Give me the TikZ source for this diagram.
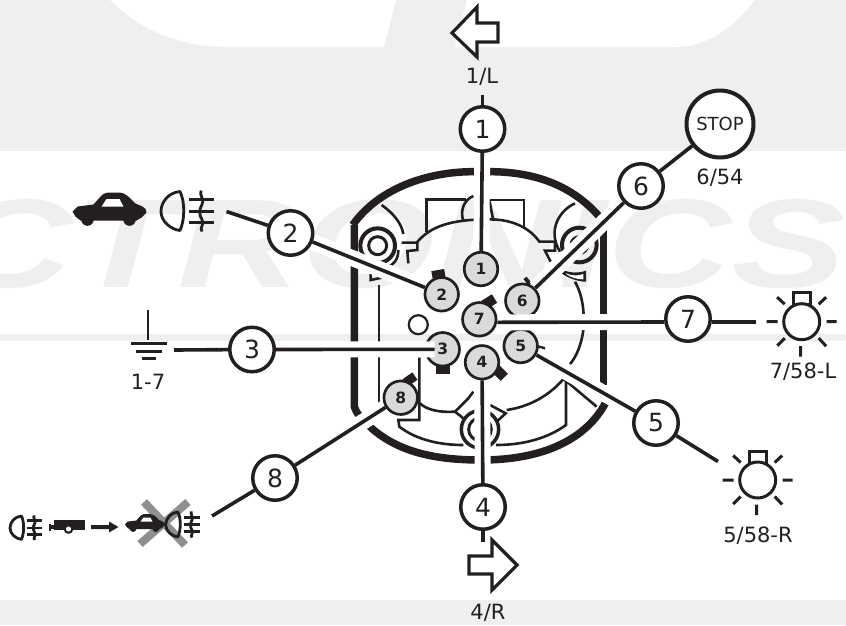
\documentclass[tikz,border=0pt]{standalone}
\usepackage{fontspec}
\setmainfont{DejaVu Sans}
\newfontfamily\wmfont{Liberation Sans}
\definecolor{ink}{HTML}{231F20}
\definecolor{wm}{HTML}{EFEFEF}
\definecolor{pinfill}{HTML}{D9DADC}
\definecolor{xgray}{HTML}{8F8F8F}
\pgfdeclarelayer{low}\pgfdeclarelayer{halolayer}
\pgfsetlayers{low,halolayer,main}
\tikzset{
  callout/.style={circle,draw=ink,fill=white,line width=3.5pt,minimum size=44.5pt,inner sep=0pt,text=ink,font=\fontsize{25}{25}\selectfont},
  pinnode/.style={circle,draw=ink,fill=pinfill,line width=2.7pt,minimum size=33.5pt,inner sep=0pt,text=ink,font=\fontsize{15.5}{15.5}\selectfont\bfseries},
  lab/.style={text=ink,inner sep=0pt,font=\fontsize{21}{21}\selectfont},
  wire/.style={draw=ink,line width=3.6pt},
  halo/.style={draw=white,line width=16pt},
  thickhouse/.style={draw=ink,line width=7.5pt},
  thinhouse/.style={draw=ink,line width=2.6pt},
  icon/.style={draw=ink,line width=2.8pt},
  tabmark/.style={fill=ink,draw=none},
}
\newcommand{\lampicon}[3]{%
  \begin{scope}[shift={(#1,#2)},scale=#3]
    \draw[icon,line join=round] (19,0) .. controls (24,10) and (24,28) .. (19,39) .. controls (10,38) and (0,30) .. (0,20) .. controls (0,10) and (8,1) .. (19,0) -- cycle;
    \draw[icon] (28,8) -- (53,8) (28,20) -- (53,20) (28,31) -- (53,31);
    \draw[icon] (40,-1) .. controls (38,4) and (44,8) .. (41,13) .. controls (38,18) and (38,24) .. (41,28) .. controls (44,33) and (38,36) .. (41,40);
  \end{scope}}
\newcommand{\caricon}[3]{%
  \begin{scope}[shift={(#1,#2)},scale=#3]
    \fill[ink] (0,19) -- (5,14) -- (21,12) -- (29,3) .. controls (32,0) and (36,0) .. (38,0) -- (47,0) .. controls (52,0) and (56,4) .. (63,11) -- (70,14) .. controls (73,15) and (74,18) .. (74,20) -- (69,25) -- (64,28) -- (8,28) -- (3,24) -- cycle;
    \fill[ink] (15,27) circle (6.3) (57,27) circle (6.3);
    \fill[white] (29,14) -- (34,6.5) -- (47,6.5) -- (51,14) -- cycle;
  \end{scope}}
\newcommand{\bulbicon}[2]{%
  \begin{scope}[shift={(#1,#2)}]
    \draw[icon,line width=3pt] (-8.5,-17) rectangle (9,-29);
    \draw[icon,line width=3pt,fill=white] (0,0) circle (18);
    \draw[icon,line width=3pt] (-35,0) -- (-24,0) (25,0) -- (35,0) (-1,24.5) -- (-1,35)
      (-24.5,-24.5) -- (-17,-17.5) (24.5,-24.5) -- (17,-17.5) (-24.5,24) -- (-17,16.5) (24.5,24.5) -- (17,16.5);
  \end{scope}}
\begin{document}
\begin{tikzpicture}[x=1pt,y=-1pt]
\useasboundingbox (0,0) rectangle (846,625);
\begin{pgfonlayer}{low}
  % background watermark
  \begin{scope}
    \clip (0,0) rectangle (846,625);
    \fill[wm] (0,0) rectangle (846,151);
    \fill[white] (110,0) .. controls (140,30) and (180,47) .. (227,47) -- (384,47) -- (396,0) -- cycle;
    \fill[white] (467,0) -- (455,47) -- (675,47) .. controls (710,47) and (735,25) .. (755,0) -- cycle;
    \fill[wm] (0,334) rectangle (846,341);
    \fill[wm] (0,600) rectangle (846,625);
    \node[anchor=north west,inner sep=0pt,text=wm] at (-52,199) {\resizebox{898pt}{88pt}{\wmfont\bfseries\itshape CTRONICS}};
  \end{scope}
  % connector housing, in a frame of 3x units from (330,150)
  \begin{scope}[shift={(330,150)},scale=1/3]
    \draw[thickhouse] (68,225) .. controls (150,110) and (300,65) .. (430,65) -- (478,65) .. controls (620,65) and (730,110) .. (808,200);
    \draw[thickhouse] (73,225) -- (73,770) .. controls (78,790) and (95,805) .. (125,835) .. controls (200,900) and (300,930) .. (453,930)
      .. controls (620,930) and (760,880) .. (826,760);
    \draw[thickhouse] (820,240) -- (820,705);
    \draw[thinhouse] (290,245) -- (290,148) -- (408,148);
    \draw[thinhouse] (430,138) .. controls (400,150) and (390,185) .. (400,212);
    \draw[thinhouse] (478,150) -- (582,150) -- (582,232);
    \draw[thinhouse] (478,150) -- (490,212);
    \draw[thinhouse] (260,278) .. controls (300,230) and (360,208) .. (478,208) .. controls (550,208) and (600,235) .. (628,275);
    \draw[thinhouse] (215,278) -- (262,278) -- (262,300) -- (232,303) -- (235,340);
    \draw[thinhouse] (625,275) -- (675,275) -- (675,302) -- (645,302) -- (662,335);
    \draw[thinhouse] (155,165) .. controls (190,190) and (215,220) .. (220,252);
    \draw[thinhouse,line width=3pt] (143,287) circle (27);
    \draw[thinhouse,line width=4pt] (143,287) circle (52);
    \draw[thinhouse] (205,300) .. controls (205,330) and (190,345) .. (170,352);
    \draw[thinhouse] (735,160) .. controls (690,180) and (650,240) .. (690,305);
    \draw[thinhouse,line width=4pt] (748,285) circle (52);
    \draw[thinhouse,line width=3pt] (748,285) circle (25);
    \fill[ink] (695,358) .. controls (720,370) and (745,370) .. (768,362) -- (768,395) .. controls (745,395) and (715,385) .. (695,370) -- cycle;
    \fill[white] (708,370) .. controls (725,378) and (745,378) .. (760,372) -- (760,388) .. controls (740,388) and (725,383) .. (708,372) -- cycle;
    \draw[thinhouse] (735,395) .. controls (755,430) and (765,480) .. (760,540) .. controls (755,580) and (740,620) .. (720,642);
    \draw[thinhouse] (122,372) -- (122,390) -- (160,382);
    \draw[thinhouse] (147,405) -- (147,765);
    \draw[draw=gray!70,line width=1pt] (147,577) -- (270,577);
    \draw[thinhouse] (268,622) -- (268,810) -- (205,810) -- (208,830) .. controls (260,870) and (330,885) .. (400,885);
    \draw[thinhouse] (270,760) .. controls (290,780) and (330,788) .. (375,785) -- (415,745) -- (430,725);
    \draw[thinhouse] (375,785) -- (400,805);
    \draw[thinhouse,line width=3.5pt] (450,838) circle (56);
    \draw[thinhouse,line width=3pt] (450,838) circle (34);
    \draw[thinhouse] (480,765) -- (527,790) -- (500,815);
    \draw[thinhouse] (530,780) .. controls (600,770) and (660,735) .. (702,685) -- (708,695) -- (708,825) .. controls (660,860) and (590,885) .. (498,885);
    \draw[thinhouse] (705,690) -- (800,770);
    \draw[thinhouse] (625,590) -- (645,595);
  \end{scope}
  % pins cut by the white margin of a wire
  \fill[tabmark,rotate around={38:(527.5,281)}] (525.5,277) rectangle (529.5,285);
  \fill[tabmark] (436,365) rectangle (450,374);
  \node[pinnode] (p6) at (522.3,300.7) {6};
  \node[pinnode] (p5) at (520.7,346) {5};
  \node[pinnode] (p3) at (442.7,349.3) {3};
\end{pgfonlayer}

% tabs of the pins
\fill[tabmark,rotate around={10:(438.5,274.5)}] (432,270) rectangle (445,279);
\fill[tabmark,rotate around={32:(489,302)}] (482.5,297) rectangle (495.5,307);
\fill[tabmark,rotate around={-45:(500,373)}] (494,368) rectangle (506,378);
\fill[tabmark,rotate around={35:(410,379.5)}] (404,375) rectangle (416,384);

% pins
\node[pinnode] (p1) at (481,269) {1};
\node[pinnode] (p2) at (441.7,294.3) {2};
\node[pinnode] (p7) at (479.3,319.3) {7};
\node[pinnode] (p4) at (482,362.3) {4};
\node[pinnode] (p8) at (400.7,397.7) {8};
\node[circle,draw=ink,fill=white,line width=2.2pt,minimum size=19pt,inner sep=0pt] (hole) at (418.3,324.7) {};

% numbered callouts
\node[callout] (c1) at (482.5,129) {1};
\node[callout] (c2) at (290.5,233) {2};
\node[callout] (c3) at (252,349.5) {3};
\node[callout] (c4) at (483,507) {4};
\node[callout] (c5) at (656,423) {5};
\node[callout] (c6) at (641,186) {6};
\node[callout] (c7) at (688,319) {7};
\node[callout] (c8) at (275,478) {8};

% free ends
\coordinate (e1) at (482.5,95);
\coordinate (e2) at (226.5,211.5);
\coordinate (e3) at (174,350);
\coordinate (e4) at (483,542);
\coordinate (e5) at (718,461.5);
\coordinate (e7) at (756,322);
\coordinate (e8) at (212,516);

% STOP lamp
\node[circle,draw=ink,fill=white,line width=4pt,minimum size=67pt,inner sep=0pt,text=ink,font=\fontsize{18}{18}\selectfont] (stop) at (720,124) {STOP};
\node[lab] (l6) at (720,178) {6/54};

% white margins round the wires inside the housing
\begin{pgfonlayer}{halolayer}
  \draw[halo] (c1) -- (p1);
  \draw[halo] (c2) -- (p2);
  \draw[halo] (c3.east) -- ([xshift=-8pt]p3.center);
  \draw[halo] (c4) -- (p4);
  \draw[halo] (c5) -- (p5);
  \draw[halo] (c6) -- (p6);
  \draw[halo] ([yshift=-3pt]c7.west) -- ([yshift=-3pt]p7.east);
  \draw[halo] (c8) -- (p8);
\end{pgfonlayer}

% wires
\draw[wire] (c1) -- (p1);
\draw[wire] (c1) -- (e1);
\draw[wire] (c2) -- (p2);
\draw[wire] (c2) -- (e2);
\draw[wire] (c3.east) -- ([xshift=-8pt]p3.center);
\draw[wire] (c3) -- (e3);
\draw[wire] (c4) -- (p4);
\draw[wire] (c4) -- (e4);
\draw[wire] (c5) -- (p5);
\draw[wire] (c5) -- (e5);
\draw[wire] (c6) -- (p6);
\draw[wire] (c6) -- (stop);
\draw[wire] ([yshift=-3pt]c7.west) -- ([yshift=-3pt]p7.east);
\draw[wire] ([yshift=-3pt]c7.east) -- (e7);
\draw[wire] (c8) -- (p8);
\draw[wire] (c8) -- (e8);

% arrows and labels
\draw[icon,line width=3.2pt,fill=white,line join=miter] (452,33) -- (477,7) -- (477,23) -- (498,23) -- (498,42) -- (477,42) -- (477,57) -- cycle;
\node[lab] (l1) at (482,77) {1/L};
\draw[icon,line width=3.2pt,fill=white,line join=miter] (517,565) -- (492,540) -- (492,556) -- (469,556) -- (469,574) -- (492,574) -- (492,590) -- cycle;
\node[lab] (l4) at (488,613) {4/R};

% ground
\draw[icon] (148,310) -- (148,340);
\draw[icon] (131,343.5) -- (167,343.5) (136,351.5) -- (162,351.5) (142,358.5) -- (156,358.5);
\node[lab] (l3) at (148,382) {1-7};

% bulbs
\bulbicon{801.7}{321.7}
\node[lab] (l7) at (803,371.5) {7/58-L};
\bulbicon{757.7}{480}
\node[lab] (l5) at (758,536) {5/58-R};

% car + fog lamp
\caricon{72.5}{192.5}{1}
\lampicon{161}{191.5}{1}

% fog lamp, trailer, arrow, crossed car
\lampicon{10}{516}{0.6}
\fill[ink] (53.5,520) rectangle (85,529.5);
\fill[ink] (49,525) rectangle (54,529);
\fill[ink] (48.5,524) rectangle (50.5,530.5);
\draw[ink,line width=2pt,fill=white] (68.5,529) circle (3.8);
\fill[ink] (91,525) -- (109,525) -- (109,521.5) -- (118.5,527) -- (109,532.5) -- (109,529) -- (91,529) -- cycle;
\draw[xgray,line width=8pt] (144,502) -- (185,545) (188,502) -- (140,544);
\caricon{125}{514}{0.54}
\lampicon{165.7}{512}{0.64}
\end{tikzpicture}
\end{document}
